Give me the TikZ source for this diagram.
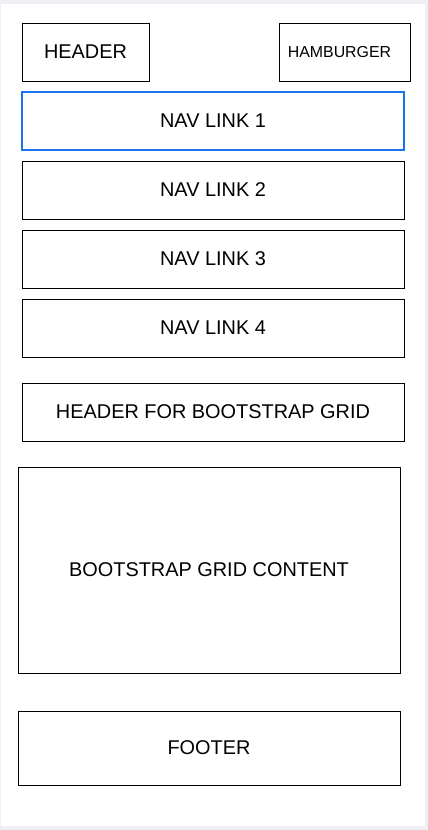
\documentclass[tikz,border=0pt]{standalone}
\usepackage{fontspec}
\setmainfont{Liberation Sans}
\definecolor{pagegray}{HTML}{EEF0F4}
\definecolor{selblue}{HTML}{1A73E8}
\tikzset{
  box/.style={draw=black, line width=0.9pt, inner sep=0pt, font=\fontsize{19.9}{23}\selectfont},
  navbox/.style={box, minimum width=382pt, minimum height=58pt},
}
\begin{document}
\begin{tikzpicture}[x=1pt, y=-1pt]
\useasboundingbox (0,0) rectangle (428,830);
\fill[pagegray] (0,0) rectangle (428,830);
\fill[white] (1,4) rectangle (425,826);
\node[box, minimum width=127pt, minimum height=58pt] (header) at (85.5,52) {HEADER};
\node[box, minimum width=131pt, minimum height=58pt, font=\fontsize{15.9}{18}\selectfont] (hamburger) at (344.5,52) {HAMBURGER\kern10pt};
\node[navbox, draw=selblue, line width=1.5pt] (nav1) at (213,121) {NAV LINK 1};
\node[navbox] (nav2) at (213,190) {NAV LINK 2};
\node[navbox] (nav3) at (213,259) {NAV LINK 3};
\node[navbox] (nav4) at (213,328) {NAV LINK 4};
\node[navbox] (gridheader) at (213,412) {HEADER FOR BOOTSTRAP GRID};
\node[box, minimum width=382pt, minimum height=206pt] (gridcontent) at (209,570) {BOOTSTRAP GRID CONTENT};
\node[box, minimum width=382pt, minimum height=74pt] (footer) at (209,748) {FOOTER};
\end{tikzpicture}
\end{document}
